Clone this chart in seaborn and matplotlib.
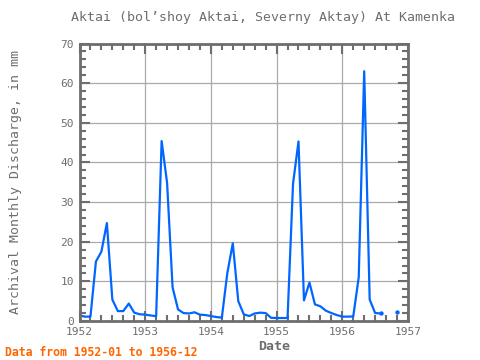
import numpy as np
import pandas as pd
import matplotlib
matplotlib.use("Agg")
import matplotlib.pyplot as plt
import seaborn as sns
from matplotlib.ticker import MultipleLocator

# monthly discharge, 1952-01 .. 1956-12 (mm)
months = pd.date_range("1952-01-01", "1956-12-01", freq="MS")
q_1952 = [1.4, 1.1, 1.1, 15.0, 17.5, 24.7, 5.4, 2.5, 2.5, 4.4, 2.1, 1.7]
q_1953 = [1.6, 1.4, 1.2, 45.4, 34.8, 8.5, 2.9, 2.0, 1.9, 2.2, 1.6, 1.5]
q_1954 = [1.25, 1.0, 0.85, 12.1, 19.6, 5.0, 1.7, 1.25, 1.9, 2.1, 2.0, 0.8]
q_1955 = [0.75, 0.75, 0.75, 34.6, 45.3, 5.2, 9.7, 4.2, 3.7, 2.6, 2.0, 1.5]
q_1956 = [1.1, 1.1, 1.15, 11.0, 63.0, 5.4, 2.0, 1.9, np.nan, np.nan, 2.25, np.nan]

q = q_1952 + q_1953 + q_1954 + q_1955 + q_1956
df = pd.DataFrame({"date": months, "q": q})
df["t"] = df["date"].dt.year + (df["date"].dt.month - 1) / 12
# split into runs so that gaps stay gaps
df["seg"] = df["q"].isna().cumsum()
df = df.dropna()

blue = "#0066ff"
gray = "#6e6e6e"

sns.set_style("white")
plt.rcParams["font.family"] = ["DejaVu Sans Mono"]

fig = plt.figure(figsize=(4.8, 3.6), dpi=100)
ax = fig.add_axes([79.5 / 480, 39 / 360, 328.5 / 480, 277.5 / 360])

sns.lineplot(data=df, x="t", y="q", units="seg", estimator=None,
             color=blue, linewidth=1.6, ax=ax)

# ends of runs get a dot
ends = df.groupby("seg").tail(1)
sns.scatterplot(data=ends, x="t", y="q", color=blue, s=10, linewidth=0, ax=ax)

ax.set_xlim(1952, 1957)
ax.set_ylim(0, 70)
ax.xaxis.set_major_locator(MultipleLocator(1))
ax.xaxis.set_minor_locator(MultipleLocator(1 / 6))
ax.yaxis.set_major_locator(MultipleLocator(10))
ax.yaxis.set_minor_locator(MultipleLocator(2))
ax.xaxis.set_major_formatter(matplotlib.ticker.FuncFormatter(lambda v, p: f"{int(round(v))}"))

ax.grid(True, which="major", color="#aaaaaa", linewidth=0.9)
ax.set_axisbelow(True)
for s in ax.spines.values():
    s.set_color(gray)
    s.set_linewidth(2)

ax.tick_params(which="both", direction="in", top=True, right=True,
               bottom=True, left=True,
               color=gray, labelcolor=gray, labelsize=8, width=1.5)
ax.tick_params(which="major", length=7, pad=4)
ax.tick_params(which="minor", length=4)

ax.set_xlabel("")
ax.set_ylabel("")

fig.text(263 / 480, 1 - 18 / 360, "Aktai (bol’shoy Aktai, Severny Aktay) At Kamenka",
         ha="center", va="center", color=gray, fontsize=9.5)
fig.text(16 / 480, 1 - 182 / 360, "Archival Monthly Discharge, in mm",
         rotation=90, ha="center", va="center", color=gray, fontsize=9.5)
fig.text(274 / 480, 1 - 347 / 360, "Date", ha="center", va="center",
         color=gray, fontsize=9.5, fontweight="bold")
fig.text(5 / 480, 1 - 352 / 360, "Data from 1952-01 to 1956-12", ha="left",
         va="center", color="#ff6600", fontsize=8.3, fontweight="bold")

fig.savefig("out.png", dpi=100)
